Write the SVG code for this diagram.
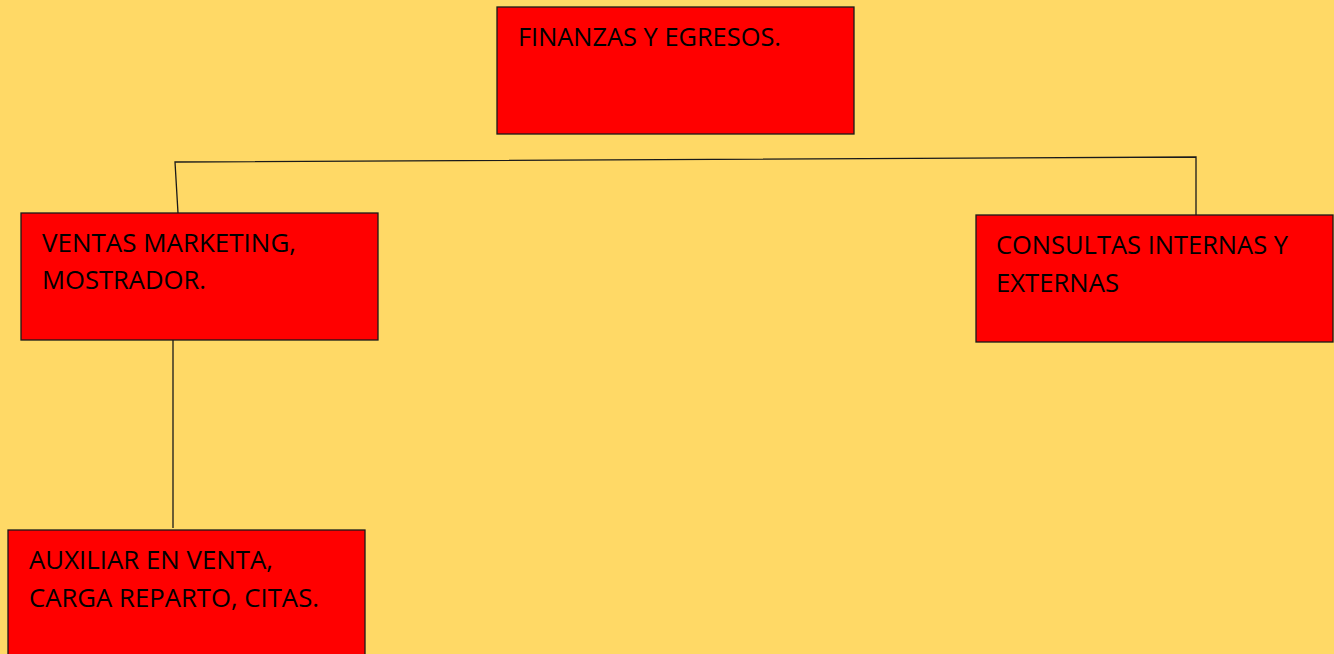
<svg xmlns="http://www.w3.org/2000/svg" width="1334" height="654" viewBox="0 0 1334 654">
<style>
.box{fill:#ff0000;stroke:#1a1a1a;stroke-width:1.3}
.t{font-family:"Open Sans","Noto Sans",sans-serif;font-size:25.5px;fill:#000}
.c{stroke:#1a1a1a;stroke-width:1.3;fill:none}
</style>
<rect width="1334" height="654" fill="#ffd966"/>
<g id="connectors">
<polyline class="c" points="178,213 175,162 1196,157 1196,215"/>
<line class="c" x1="173" y1="340" x2="173" y2="528"/>
</g>
<g id="finanzas">
<rect class="box" x="497" y="7" width="357" height="127"/>
<text class="t" x="518" y="46" textLength="263" lengthAdjust="spacingAndGlyphs">FINANZAS Y EGRESOS.</text>
</g>
<g id="ventas">
<rect class="box" x="21" y="213" width="357" height="127"/>
<text class="t" x="42" y="252" textLength="254" lengthAdjust="spacingAndGlyphs">VENTAS MARKETING,</text>
<text class="t" x="42" y="289" textLength="164" lengthAdjust="spacingAndGlyphs">MOSTRADOR.</text>
</g>
<g id="consultas">
<rect class="box" x="976" y="215" width="357" height="127"/>
<text class="t" x="996" y="254" textLength="292" lengthAdjust="spacingAndGlyphs">CONSULTAS INTERNAS Y</text>
<text class="t" x="996" y="292" textLength="123" lengthAdjust="spacingAndGlyphs">EXTERNAS</text>
</g>
<g id="auxiliar">
<rect class="box" x="8" y="530" width="357" height="130"/>
<text class="t" x="29" y="569" textLength="244" lengthAdjust="spacingAndGlyphs">AUXILIAR EN VENTA,</text>
<text class="t" x="29" y="607" textLength="290" lengthAdjust="spacingAndGlyphs">CARGA REPARTO, CITAS.</text>
</g>
</svg>
